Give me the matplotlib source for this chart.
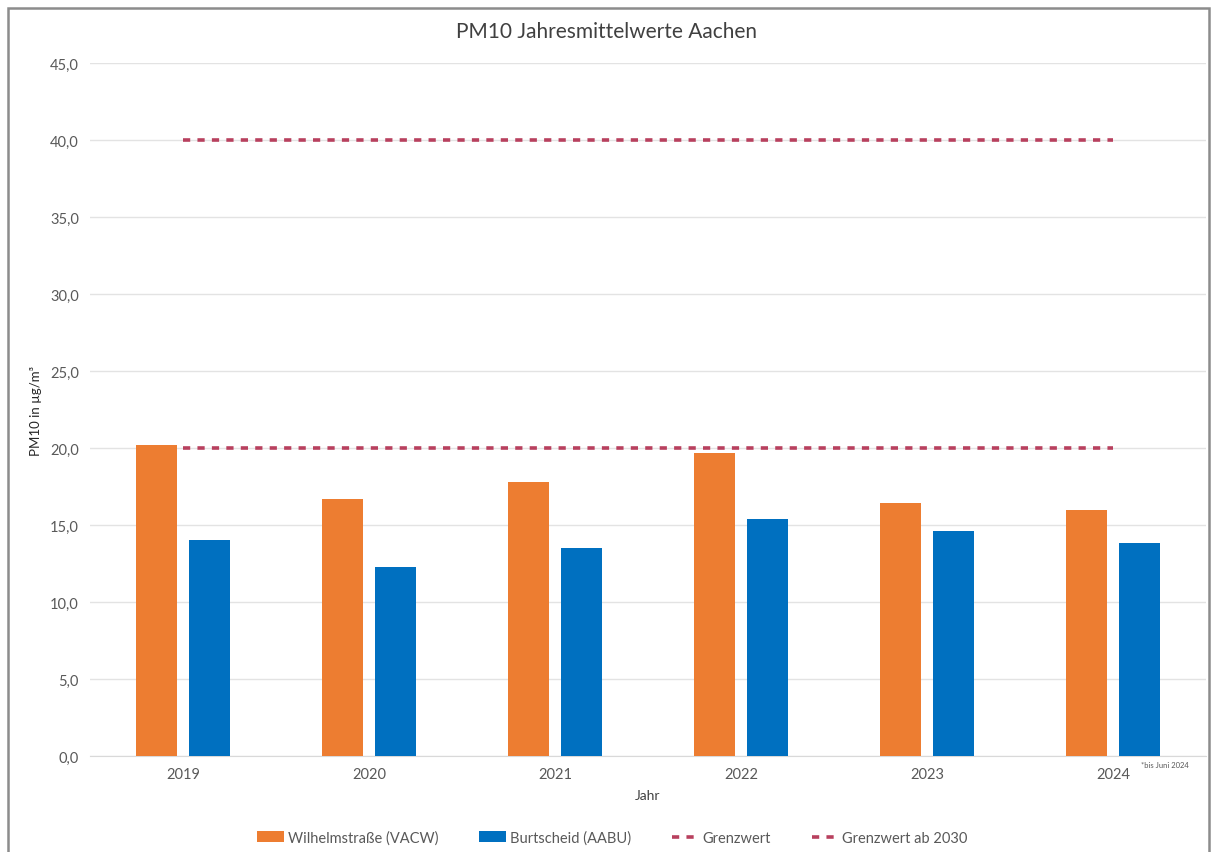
import matplotlib
matplotlib.use("Agg")
import matplotlib.pyplot as plt
from matplotlib.patches import Rectangle
import numpy as np

plt.rcParams['font.family'] = ['Lato', 'DejaVu Sans']

years = ["2019", "2020", "2021", "2022", "2023", "2024"]
wilhelm = [20.2, 16.7, 17.8, 19.7, 16.4, 16.0]
burtscheid = [14.0, 12.3, 13.5, 15.4, 14.6, 13.8]
grenzwert = 40.0
grenzwert_2030 = 20.0
yticks = [0, 5, 10, 15, 20, 25, 30, 35, 40, 45]

c_orange = "#ED7D31"
c_blue = "#0070C0"
c_red = "#B8405E"
c_text = "#595959"

fig = plt.figure(figsize=(12.13, 8.53), dpi=100)
ax = fig.add_axes([0.0742, 0.1125, 0.920, 0.8125])

x = np.arange(len(years))
w = 0.22
off = 0.143
b1 = ax.bar(x - off, wilhelm, width=w, color=c_orange, label="Wilhelmstraße (VACW)", zorder=3)
b2 = ax.bar(x + off, burtscheid, width=w, color=c_blue, label="Burtscheid (AABU)", zorder=3)
l1, = ax.plot([x[0], x[-1]], [grenzwert, grenzwert], color=c_red, lw=2.6,
              dashes=(2.0, 2.0), label="Grenzwert", zorder=4)
l2, = ax.plot([x[0], x[-1]], [grenzwert_2030, grenzwert_2030], color=c_red, lw=2.6,
              dashes=(2.0, 2.0), label="Grenzwert ab 2030", zorder=4)

ax.set_xlim(-0.5, len(years) - 0.5)
ax.set_ylim(0, 45)
ax.set_yticks(yticks)
ax.set_yticklabels([f"{v:.1f}".replace(".", ",") for v in yticks], color=c_text, fontsize=10.5)
ax.set_xticks(x)
ax.set_xticklabels(years, color=c_text, fontsize=10.5)
ax.tick_params(axis='both', length=0, pad=8)
ax.grid(axis='y', color="#e3e3e3", lw=1, zorder=0)
for s in ["top", "right", "left"]:
    ax.spines[s].set_visible(False)
ax.spines["bottom"].set_color("#d9d9d9")
ax.set_axisbelow(True)

ax.set_xlabel("Jahr", fontsize=10, color="#404040", labelpad=6)
ax.set_ylabel("PM10 in µg/m³", fontsize=9.5, color="#262626", labelpad=6)
fig.text(0.5, 0.963, "PM10 Jahresmittelwerte Aachen", ha="center", va="center",
         fontsize=15, color="#404040")

ax.text(5.15, -0.3, "*bis Juni 2024", fontsize=5.5, color=c_text, ha="left", va="top")

leg = fig.legend(handles=[b1, b2, l1, l2], loc="center", bbox_to_anchor=(0.505, 0.017),
                 ncol=4, frameon=False, fontsize=10.5, handlelength=1.8, handleheight=0.7,
                 columnspacing=2.8, handletextpad=0.3, labelcolor=c_text)

fig.patches.append(Rectangle((0.007, -0.01), 0.99, 1.0, transform=fig.transFigure,
                             fill=False, edgecolor="#8c8c8c", lw=1.8))

fig.savefig("out.png", dpi=100, facecolor="white")
